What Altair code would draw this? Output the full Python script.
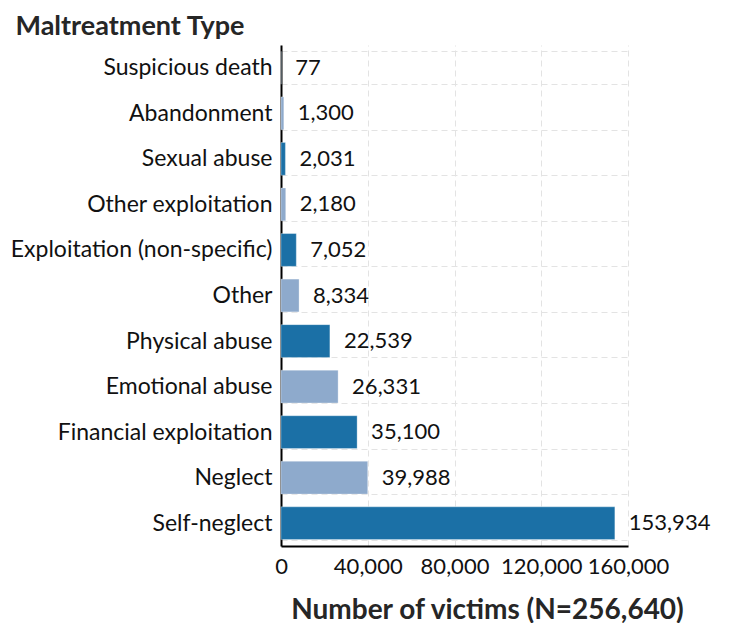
import altair as alt
import pandas as pd

categories = ["Suspicious death", "Abandonment", "Sexual abuse", "Other exploitation",
              "Exploitation (non-specific)", "Other", "Physical abuse", "Emotional abuse",
              "Financial exploitation", "Neglect", "Self-neglect"]
victims = [77, 1300, 2031, 2180, 7052, 8334, 22539, 26331, 35100, 39988, 153934]
shade = ["dark", "light", "dark", "light", "dark", "light", "dark", "light", "dark", "light", "dark"]
x_ticks = [0, 40000, 80000, 120000, 160000]

df = pd.DataFrame({"cat": categories, "n": victims, "shade": shade})

FONT = "Lato"

x_axis = alt.Axis(values=x_ticks, labelExpr="format(datum.value, ',')",
                  title="Number of victims (N=256,640)",
                  titleX=206, titleY=72, titleAlign="center", titleBaseline="alphabetic",
                  titleFontSize=28, titleFontWeight="bold", titleColor="#262626",
                  titleFont=FONT, labelFont=FONT, labelFontSize=22,
                  labelColor="#111111", labelPadding=10, ticks=False,
                  domainColor="#000000", domainWidth=2, grid=True,
                  gridColor="#e3e3e3", gridDash=[6, 4], gridWidth=1,
                  labelFlush=False, labelOverlap=False)
x_scale = alt.Scale(domain=[0, 160000], nice=False)

base = alt.Chart(df).encode(
    y=alt.Y("cat:N", sort=categories,
            scale=alt.Scale(paddingInner=0.28, paddingOuter=0.14),
            axis=alt.Axis(title="Maltreatment Type", titleAngle=0, titleX=-266, titleY=-11,
                          titleAlign="left", titleBaseline="alphabetic", titleFontSize=27,
                          titleFontWeight="bold", titleColor="#262626", titleFont=FONT,
                          labelFont=FONT, labelFontSize=23, labelColor="#111111",
                          labelLimit=400, labelPadding=9, ticks=False,
                          domainColor="#000000", domainWidth=2,
                          grid=True, tickBand="extent", gridColor="#e3e3e3",
                          gridDash=[6, 4], gridWidth=1)),
)

bars = base.mark_bar(stroke="white", strokeWidth=0.6, strokeOpacity=0.5).encode(
    x=alt.X("n:Q", scale=x_scale, axis=x_axis),
    color=alt.Color("shade:N", scale=alt.Scale(domain=["dark", "light"],
                                                range=["#1b70a6", "#8eaacc"]), legend=None),
)

labels = base.mark_text(align="left", baseline="middle", dx=14, font=FONT,
                        fontSize=22, color="#111111").encode(
    x=alt.X("n:Q", scale=x_scale, axis=x_axis),
    text=alt.Text("n:Q", format=","),
)

chart = (bars + labels).properties(
    width=347, height=501,
    autosize=alt.AutoSizeParams(type="none"),
    padding={"left": 273, "top": 37, "right": 96, "bottom": 77},
).configure_view(stroke=None)

chart.save("out.html", embed_options={"renderer": "svg", "actions": False})
